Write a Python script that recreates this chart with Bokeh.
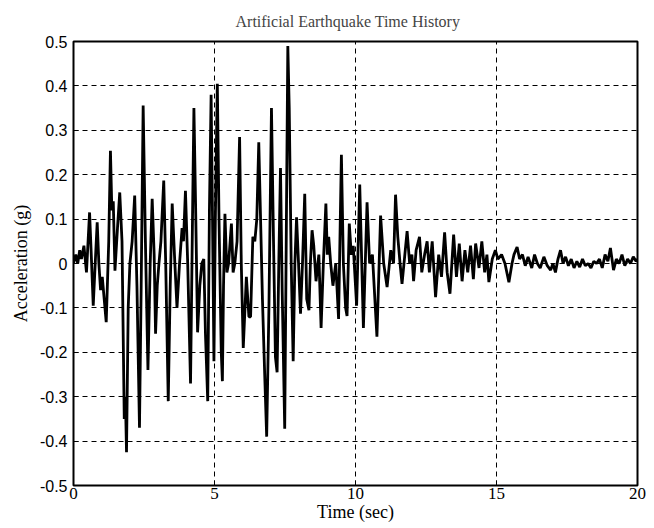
from bokeh.plotting import figure
from bokeh.models import FixedTicker, CustomJSTickFormatter, Range1d
from bokeh.embed import file_html
from bokeh.resources import INLINE

# ---- data ----
time_s = [
    0.00, 0.08, 0.15, 0.22, 0.28, 0.37, 0.46, 0.57, 0.63, 0.70, 0.77, 0.84, 0.90, 0.96, 1.02,
    1.16, 1.25, 1.31, 1.36, 1.41, 1.47, 1.56, 1.64, 1.72, 1.80, 1.84, 1.88, 1.94, 2.00, 2.08,
    2.17, 2.25, 2.34, 2.40, 2.47, 2.55, 2.64, 2.72, 2.79, 2.86, 2.91, 2.97, 3.03, 3.10, 3.20,
    3.27, 3.36, 3.43, 3.50, 3.58, 3.67, 3.76, 3.85, 3.90, 3.97, 4.05, 4.15, 4.22, 4.27, 4.33,
    4.40, 4.48, 4.55, 4.62, 4.68, 4.76, 4.82, 4.88, 4.93, 4.98, 5.03, 5.10, 5.16, 5.24, 5.28,
    5.32, 5.37, 5.44, 5.50, 5.60, 5.66, 5.72, 5.80, 5.89, 5.95, 6.02, 6.13, 6.22, 6.28, 6.36,
    6.43, 6.50, 6.57, 6.63, 6.70, 6.78, 6.85, 6.93, 7.02, 7.08, 7.16, 7.22, 7.28, 7.34, 7.40,
    7.49, 7.55, 7.60, 7.65, 7.72, 7.79, 7.85, 7.91, 7.98, 8.05, 8.12, 8.20, 8.27, 8.35, 8.40,
    8.46, 8.52, 8.60, 8.70, 8.78, 8.86, 8.95, 9.00, 9.05, 9.12, 9.20, 9.30, 9.40, 9.50, 9.57,
    9.65, 9.70, 9.78, 9.85, 9.92, 10.04, 10.15, 10.28, 10.41, 10.50, 10.60, 10.76, 10.89, 11.00, 11.12,
    11.25, 11.35, 11.42, 11.50, 11.58, 11.65, 11.75, 11.83, 11.92, 12.00, 12.06, 12.15, 12.27, 12.35, 12.45,
    12.54, 12.62, 12.72, 12.84, 12.95, 13.05, 13.16, 13.25, 13.35, 13.48, 13.58, 13.68, 13.78, 13.88, 13.98,
    14.08, 14.18, 14.26, 14.38, 14.48, 14.58, 14.66, 14.73, 14.85, 14.96, 15.05, 15.18, 15.30, 15.44, 15.55,
    15.62, 15.73, 15.82, 15.92, 16.02, 16.12, 16.25, 16.35, 16.45, 16.55, 16.68, 16.80, 16.92, 17.00, 17.09,
    17.18, 17.27, 17.36, 17.45, 17.55, 17.65, 17.75, 17.85, 17.95, 18.05, 18.15, 18.25, 18.35, 18.45, 18.55,
    18.65, 18.75, 18.85, 18.95, 19.04, 19.15, 19.25, 19.35, 19.45, 19.55, 19.65, 19.75, 19.85, 19.95, 20.00,
]
accel_g = [
    0.00, 0.02, 0.00, 0.03, 0.01, 0.04, -0.02, 0.115, 0.02, -0.095, 0.00, 0.093, 0.00, -0.06, -0.03,
    -0.132, 0.05, 0.254, 0.12, 0.14, -0.016, 0.08, 0.16, 0.05, -0.35, -0.30, -0.425, -0.10, 0.00, 0.05,
    0.153, -0.05, -0.37, -0.05, 0.356, 0.05, -0.24, 0.00, 0.146, 0.02, -0.158, -0.05, 0.00, 0.05, 0.187,
    0.00, -0.31, -0.05, 0.135, 0.02, -0.10, 0.00, 0.08, 0.05, 0.164, 0.00, -0.27, 0.10, 0.35, 0.13,
    -0.155, -0.05, 0.00, 0.01, -0.16, -0.31, 0.12, 0.38, 0.10, -0.22, 0.10, 0.405, 0.10, -0.20, -0.265,
    -0.05, 0.112, -0.02, 0.00, 0.09, -0.02, 0.00, 0.05, 0.285, 0.00, -0.19, -0.03, -0.12, -0.12, 0.06,
    0.05, 0.10, 0.273, 0.11, -0.08, -0.25, -0.39, -0.10, 0.35, 0.10, -0.21, -0.245, 0.00, 0.215, -0.06,
    -0.372, 0.10, 0.49, 0.35, 0.00, -0.22, 0.00, 0.104, 0.00, -0.113, 0.00, 0.157, -0.08, -0.105, 0.00,
    0.075, 0.04, -0.04, 0.02, -0.145, 0.00, 0.135, 0.02, 0.06, 0.00, -0.05, 0.00, -0.125, 0.245, 0.00,
    -0.10, -0.118, 0.09, 0.02, 0.04, -0.095, 0.178, -0.145, 0.138, 0.00, 0.02, -0.165, 0.108, 0.00, -0.053,
    0.03, 0.00, 0.155, 0.06, 0.00, -0.046, 0.02, 0.073, 0.00, 0.02, -0.04, 0.03, 0.06, -0.02, 0.02,
    0.05, -0.02, 0.05, -0.076, 0.02, -0.03, 0.07, -0.02, -0.068, 0.065, -0.03, 0.045, -0.04, 0.03, -0.02,
    0.04, -0.035, 0.045, -0.01, 0.05, -0.02, 0.02, -0.042, 0.01, 0.03, 0.01, 0.02, 0.00, -0.042, 0.00,
    0.02, 0.037, 0.01, 0.02, -0.005, 0.015, -0.01, 0.02, 0.00, -0.01, 0.015, -0.005, -0.015, 0.00, -0.02,
    0.01, 0.03, 0.00, 0.015, -0.005, 0.01, -0.01, 0.005, -0.008, 0.01, -0.005, 0.00, -0.01, 0.005, 0.00,
    0.01, -0.01, 0.02, 0.005, 0.035, -0.015, 0.01, 0.00, 0.02, -0.005, 0.01, 0.00, 0.015, 0.005, 0.01,
]

x_ticks = [0, 5, 10, 15, 20]
y_ticks = [-0.5, -0.4, -0.3, -0.2, -0.1, 0.0, 0.1, 0.2, 0.3, 0.4, 0.5]
y_tick_labels = ["-0.5", "-0.4", "-0.3", "-0.2", "-0.1", "0", "0.1", "0.2", "0.3", "0.4", "0.5"]

title_text = "Artificial Earthquake Time History"
x_label = "Time (sec)"
y_label = "Acceleration (g)"

# ---- figure ----
p = figure(width=654, height=528, output_backend="svg", toolbar_location=None,
           x_range=Range1d(0, 20), y_range=Range1d(-0.5, 0.5),
           min_border_left=73, min_border_right=17, min_border_top=41, min_border_bottom=43)

p.title.text = title_text
p.title.text_font = "Liberation Serif"
p.title.text_font_size = "16px"
p.title.text_font_style = "normal"
p.title.align = "left"
p.title.offset = 162
p.title.vertical_align = "top"
p.title.standoff = 20

p.line(time_s, accel_g, line_color="black", line_width=2.8)

p.outline_line_color = "black"
p.outline_line_width = 2
p.outline_line_alpha = 1

p.xaxis.ticker = FixedTicker(ticks=x_ticks)
p.yaxis.ticker = FixedTicker(ticks=y_ticks)
p.yaxis.formatter = CustomJSTickFormatter(
    args=dict(vals=y_ticks, labels=y_tick_labels),
    code="""
    for (let i = 0; i < vals.length; i++) {
        if (Math.abs(vals[i] - tick) < 1e-9) { return labels[i]; }
    }
    return "";
    """)

for ax in (p.xaxis, p.yaxis):
    ax.axis_line_color = None
    ax.major_tick_in = 5
    ax.major_tick_out = 0
    ax.minor_tick_line_color = None
    ax.major_tick_line_color = "black"
    ax.major_label_text_color = "black"
    ax.axis_label_text_font = "Liberation Serif"
    ax.axis_label_text_font_size = "18px"
    ax.axis_label_text_font_style = "normal"
    ax.axis_label_text_color = "black"

p.xaxis.axis_label = x_label
p.yaxis.axis_label = y_label
p.xaxis.major_label_text_font = "Liberation Serif"
p.xaxis.major_label_text_font_size = "17px"
p.xaxis.major_label_standoff = 2
p.xaxis.axis_label_standoff = 0
p.yaxis.major_label_text_font = "Liberation Sans"
p.yaxis.major_label_text_font_size = "16px"
p.yaxis.major_label_standoff = 6
p.yaxis.axis_label_standoff = 6

p.xgrid.grid_line_color = "black"
p.ygrid.grid_line_color = "black"
p.xgrid.grid_line_dash = "5 4"
p.ygrid.grid_line_dash = "5 4"
p.xgrid.grid_line_width = 1
p.ygrid.grid_line_width = 1

p.background_fill_color = "white"
p.border_fill_color = "white"

open("out.html", "w").write(file_html(p, INLINE))
